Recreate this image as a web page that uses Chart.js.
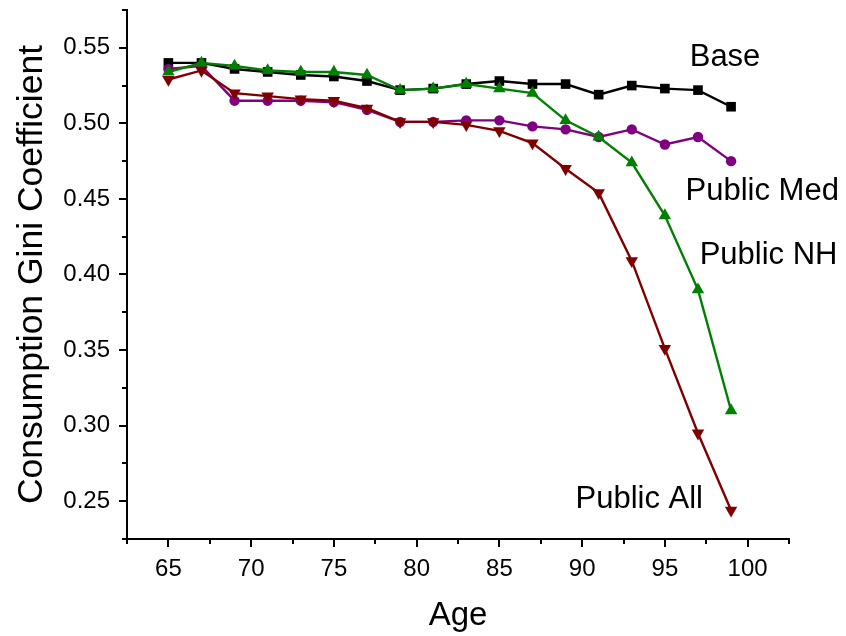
<!DOCTYPE html>
<html>
<head>
<meta charset="utf-8">
<script src="https://cdn.jsdelivr.net/npm/chart.js@4.4.1/dist/chart.umd.min.js"></script>
<style>
  html, body { margin: 0; padding: 0; background: #fff; }
  #wrap { width: 846px; height: 636px; }
</style>
</head>
<body>
<div id="wrap"><canvas id="gini" width="846" height="636"></canvas></div>
<script>
// ages on the x axis
const ages = [65, 67, 69, 71, 73, 75, 77, 79, 81, 83, 85, 87, 89, 91, 93, 95, 97, 99];

// consumption gini by scenario
const base      = [0.540, 0.540, 0.536, 0.534, 0.532, 0.531, 0.528, 0.522, 0.523, 0.526, 0.528, 0.526, 0.526, 0.519, 0.525, 0.523, 0.522, 0.511];
const publicMed = [0.536, 0.538, 0.515, 0.515, 0.515, 0.514, 0.509, 0.501, 0.501, 0.502, 0.502, 0.498, 0.496, 0.491, 0.496, 0.486, 0.491, 0.475];
const publicNH  = [0.534, 0.540, 0.538, 0.535, 0.534, 0.534, 0.532, 0.522, 0.523, 0.526, 0.523, 0.520, 0.502, 0.491, 0.474, 0.439, 0.390, 0.310];
const publicAll = [0.529, 0.535, 0.520, 0.518, 0.516, 0.515, 0.510, 0.501, 0.501, 0.499, 0.495, 0.487, 0.470, 0.454, 0.409, 0.351, 0.295, 0.244];

// tick labels
const xTickLabels = [65, 70, 75, 80, 85, 90, 95, 100];
const yTickLabels = [0.25, 0.30, 0.35, 0.40, 0.45, 0.50, 0.55];

const FONT = "'Liberation Sans', Arial, sans-serif";

function pts(vals) {
  return ages.map((a, i) => ({ x: a, y: vals[i] }));
}

// text labels next to the curves (x in years, y = baseline in gini units)
const curveLabels = [
  { text: 'Base',       x: 96.5,  y: 0.538 },
  { text: 'Public Med', x: 96.25, y: 0.449 },
  { text: 'Public NH',  x: 97.1,  y: 0.407 },
  { text: 'Public All', x: 89.6,  y: 0.2457 }
];

function isLabeled(list, v) {
  return list.some(t => Math.abs(t - v) < 1e-6);
}

// draws major/minor tick marks and the curve labels
const decor = {
  id: 'decor',
  afterDraw(chart) {
    const ctx = chart.ctx;
    const xs = chart.scales.x, ys = chart.scales.y;
    ctx.save();
    ctx.strokeStyle = '#000';
    ctx.lineWidth = 2;
    xs.ticks.forEach(t => {
      const px = Math.round(xs.getPixelForValue(t.value));
      const len = isLabeled(xTickLabels, t.value) ? 8 : 5;
      ctx.beginPath();
      ctx.moveTo(px, xs.top);
      ctx.lineTo(px, xs.top + len);
      ctx.stroke();
    });
    ys.ticks.forEach(t => {
      const py = Math.round(ys.getPixelForValue(t.value));
      const len = isLabeled(yTickLabels, t.value) ? 8 : 5;
      ctx.beginPath();
      ctx.moveTo(ys.right, py);
      ctx.lineTo(ys.right - len, py);
      ctx.stroke();
    });
    ctx.fillStyle = '#000';
    ctx.font = '31px ' + FONT;
    ctx.textAlign = 'left';
    ctx.textBaseline = 'alphabetic';
    curveLabels.forEach(l => {
      ctx.fillText(l.text, xs.getPixelForValue(l.x), ys.getPixelForValue(l.y));
    });
    ctx.restore();
  }
};

function series(label, vals, color, style, rot, radius) {
  return {
    label: label,
    data: pts(vals),
    borderColor: color,
    backgroundColor: color,
    borderWidth: 2.4,
    pointStyle: style,
    rotation: rot,
    pointRadius: radius,
    pointBorderWidth: 0,
    pointHoverRadius: radius,
    tension: 0
  };
}

new Chart(document.getElementById('gini').getContext('2d'), {
  type: 'line',
  data: {
    datasets: [
      series('Public NH', publicNH, '#008000', 'triangle', 0, 7.2),
      series('Public All', publicAll, '#800000', 'triangle', 180, 7.2),
      series('Public Med', publicMed, '#800080', 'circle', 0, 5.2),
      series('Base', base, '#000000', 'rect', 0, 6.8)
    ]
  },
  options: {
    responsive: false,
    animation: false,
    devicePixelRatio: 1,
    layout: { padding: { top: 10, right: 57, left: 0, bottom: 0 } },
    plugins: {
      legend: { display: false },
      tooltip: { enabled: false }
    },
    scales: {
      x: {
        type: 'linear',
        min: 62.5,
        max: 102.5,
        afterFit(s) { s.height = 97; s.paddingLeft = 0; s.paddingRight = 0; },
        border: { display: true, color: '#000', width: 2 },
        grid: { drawOnChartArea: false, drawTicks: true, tickLength: 8, color: 'rgba(0,0,0,0)' },
        ticks: {
          stepSize: 2.5,
          autoSkip: false,
          maxRotation: 0,
          padding: 8,
          color: '#000',
          font: { family: FONT, size: 24 },
          callback: v => isLabeled(xTickLabels, v) ? String(Math.round(v)) : ''
        },
        title: {
          display: true,
          text: 'Age',
          color: '#000',
          font: { family: FONT, size: 33 },
          padding: { top: 0, bottom: 0 }
        }
      },
      y: {
        type: 'linear',
        min: 0.225,
        max: 0.575,
        afterFit(s) { s.width = 127; s.paddingTop = 0; s.paddingBottom = 0; },
        border: { display: true, color: '#000', width: 2 },
        grid: { drawOnChartArea: false, drawTicks: true, tickLength: 8, color: 'rgba(0,0,0,0)' },
        ticks: {
          stepSize: 0.025,
          autoSkip: false,
          padding: 9,
          color: '#000',
          font: { family: FONT, size: 24 },
          callback: v => isLabeled(yTickLabels, v) ? v.toFixed(2) : ''
        },
        title: {
          display: true,
          text: 'Consumption Gini Coefficient',
          color: '#000',
          font: { family: FONT, size: 35.5 },
          padding: { top: 11, bottom: 0 }
        }
      }
    }
  },
  plugins: [decor]
});
</script>
</body>
</html>
